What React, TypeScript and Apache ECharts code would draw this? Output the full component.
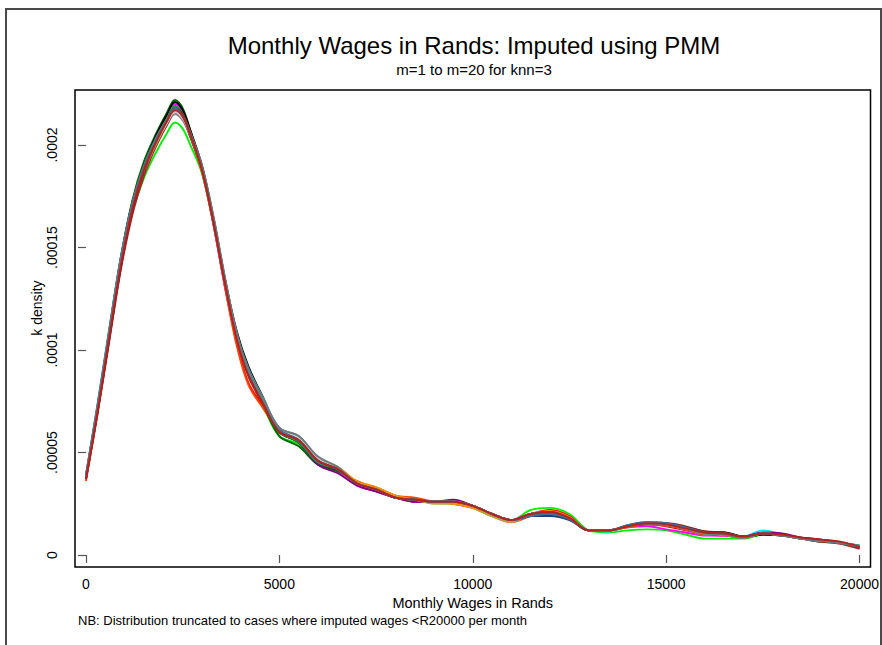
import React, { useEffect, useRef } from "react";
import * as echarts from "echarts";

// Wage grid (Rands per month)
const wages = [0, 300, 600, 900, 1200, 1500, 1800, 2100, 2300, 2500, 2700, 3000, 3300, 3600, 3900, 4200, 4600, 5000, 5500, 6000, 6500, 7000, 7500, 8000, 8500, 9000, 9500, 10000, 10500, 11000, 11500, 12000, 12500, 13000, 13500, 14000, 14500, 15000, 15500, 16000, 16500, 17000, 17500, 18000, 18500, 19000, 19500, 20000];

// Kernel density values, in millionths (1e-6)
const m1 = [37,70,106,141,167,184,196,206,211,208,200,186,161,131,106,88,72,58,54,44,41,35,32,29,27,26,26,23,19,17,22,23,20,12,11,12,12.5,12,10,8,8,8,10,9.5,8,7,6,4.5];
const m2 = [38,72,108,144,171,189,202,213,218,214,204,187,161,131,103,84,72,60,55,45,42,35,31,28,26,26,25,24,20,17,20,22,19,12,12,14,15,14,12,10,9.5,8.5,10.5,9.5,8,7,6,3.5];
const m3 = [39,73,109,145,172,190,203,214,220,216,206,188,161,130,105,89,75,62,56,45,41,34,31,28,26,26,25,23,20,17,20,21,18,12,12,13.5,14,12.5,11,9.5,9.5,8.5,10.5,10,8,7,6,4];
const m4 = [39,74,110,145,172,190,203,214,219,215,205,188,162,132,106,89,74,61,56,46,42,35,32,28,27,26,26,24,20,17,20,21,18,12,11.5,14,15,14.5,12.5,10,10,9,12,10,8,7,6,4];
const m5 = [36,69,105,141,168,187,200,211,217,214,204,187,161,130,102,83,71,60,56,46,42,36,33,29,28,26,25,23,19,16,19,21,18,12,12,13.5,15,14.5,12.5,10,10,8.5,10.5,9.5,8,7,6,4];
const m6 = [38,72,109,145,173,192,205,216,222,218,207,189,163,133,107,89,73,58,53,44,41,36,32,28,27,26,26,24,20,17,20,21,18,12,12,14,15.5,15,13,10.5,10,8.5,10,9.5,8,6.5,6,4];
const m7 = [38,72,108,143,170,188,201,212,217,214,205,189,164,134,108,91,75,61,56,46,42,35,32,28,27,26,26,24,20,17,19,19,17,12,12,14.5,16,15.5,13.5,11,10.5,9,10.5,9.5,8,7,6,4.5];
const m8 = [38,71,107,143,170,188,201,212,216,213,204,188,162,132,106,89,74,60,55,44,40,34,31,28,26,26,27,24,20,17,20,21,18,12,12,14,15.5,15,13,10.5,10,9,11,10.5,8.5,7.5,6,4];
const m9 = [37,70,106,141,168,186,199,210,215,212,204,188,163,133,107,90,75,62,57,47,43,35,32,28,27,26,26,24,20,17,20,21,18,12,12,14,15.5,15,13,10.5,10,8.5,10.5,9.5,8,7,6,4];
const m10 = [37,69,104,139,166,185,199,210,216,213,204,188,162,132,106,89,74,61,56,46,42,35,32,28,27,26,26,24,20,17,20,21,18,12,12,14,15,15,13.5,11.5,11,9,10.5,9.5,8,6.5,5.5,3];
const m11 = [38,72,108,144,172,190,204,215,221,217,207,190,164,134,109,92,76,60,55,45,42,35,32,28,27,26,26,24,20,17,19.5,20,18,12,12,14,15.5,15,13,11,11,9,10,9.5,8,7,6,4];
const m12 = [39,73,110,145,172,190,203,213,219,215,206,190,165,135,108,91,76,62,58,47,43,35,32,28,27,26,26,24,20,17,20,21,18,12,12,14,15.5,15,13,10.5,10,8.5,10.5,9.5,8,7,6,4.5];
const m13 = [38,71,107,142,169,187,200,211,217,214,205,188,162,132,106,89,74,61,56,46,42,35,33,29,27,25,25,23,19,16,20,21,18,12,12,14,15.5,15,13,10.5,10,8.5,10.5,9.5,8,7,6,4];
const m14 = [38,72,108,143,170,188,201,212,218,214,205,188,162,132,106,89,74,61,56,46,43,36,33,29,27,26,25,23,20,17,20,21.5,18.5,12,12,14,15.5,15,13,10.5,10,8.5,10.5,9.5,8,7,6,4];
const m15 = [38,72,108,143,170,188,201,211,216,213,205,188,162,132,106,89,74,61,57,47,42,35,32,28,27,26,26,24,20,17,20,21,18,12,12,14,15.5,15,13,10.5,10,8.5,10.5,9.5,8,7,6,4];
const m16 = [38,72,108,143,171,189,202,213,219,215,205,188,162,132,106,88,73,60,55,45,42,35,32,28,27,26,26,24,20,17,20,21,18,12,12,14,15.5,15,13,10.5,10,8.5,10.5,9.5,8,7,6,4];
const m17 = [37,70,105,140,168,187,201,212,218,215,205,188,162,132,106,89,74,61,56,46,42,35,32,28,27,26,26,24,20,17,20,21,18,12,12,14,15.5,15.5,14,11.5,11,9,10.5,9.5,8.5,7.5,6,3.5];
const m18 = [39,73,109,144,171,189,202,212,218,214,205,189,163,133,107,90,75,61,56,46,42,35,32,28,27,26,26,24,20,17,19,20,17.5,12,12,14.5,16,15.5,13.5,11,10.5,9,10.5,9.5,8,7,6,4];
const m19 = [38,72,108,143,170,188,201,212,217,214,205,189,164,134,108,90,75,62,58,48,43,35,32,28,27,26,26,24,20,17,20,21,18,12,12,14,15.5,15,13,10.5,10,8.5,10.5,9.5,8,7,6,4];
const m20 = [37,70,106,141,169,188,201,212,217,214,205,188,162,132,105,87,73,60,56,46,42,35,32,28,27,26,26,24,20,17,20,21,18,12,12,14,15.5,15,13,11,10.5,9,10.5,10,8.5,7.5,6.5,4];

const imputations = [m1, m2, m3, m4, m5, m6, m7, m8, m9, m10, m11, m12, m13, m14, m15, m16, m17, m18, m19, m20];
const imputationNames = imputations.map((_, i) => `m=${i + 1}`);

const xTickValues = [0, 5000, 10000, 15000, 20000];
const yTickValues = [0, 50, 100, 150, 200];
const yTickLabels = ["0", ".00005", ".0001", ".00015", ".0002"];

const titleText = "Monthly Wages in Rands: Imputed using PMM";
const subtitleText = "m=1 to m=20 for knn=3";
const xTitle = "Monthly Wages in Rands";
const yTitle = "k density";
const noteText = "NB: Distribution truncated to cases where imputed wages <R20000 per month";

const palette = ["#00ee00", "#ff0000", "#ff00ff", "#00e5ff", "#ff4500", "#006400", "#1c3f6e", "#800080", "#8c8c8c", "#a52a2a", "#000000", "#5f8f8f", "#b5a642", "#ff8c00", "#c8c8c8", "#2e8b57", "#8b1a1a", "#3f6f9f", "#6e7b7b", "#b22222"];

const FONT = "Liberation Sans, Arial, sans-serif";

export default function App() {
  const ref = useRef<HTMLDivElement>(null);
  useEffect(() => {
    if (!ref.current) return;
    const chart = echarts.init(ref.current, undefined, { renderer: "svg" });
    const series = imputations.map((vals, i) => ({
      name: imputationNames[i],
      type: "line",
      data: wages.map((w, j) => [w, vals[j]]),
      showSymbol: false,
      smooth: 0.35,
      lineStyle: { color: palette[i], width: 1.9 },
      itemStyle: { color: palette[i] },
      emphasis: { disabled: true },
    }));
    chart.setOption({
      animation: false,
      backgroundColor: "#ffffff",
      textStyle: { fontFamily: FONT },
      grid: {
        left: 75,
        top: 90,
        width: 798,
        height: 477,
        show: true,
        borderColor: "#000000",
        borderWidth: 1.5,
        containLabel: false,
      },
      xAxis: {
        type: "value",
        min: -283.5,
        max: 20283.5,
        axisLine: { show: false },
        splitLine: { show: false },
        axisTick: {
          show: true,
          inside: false,
          length: 8,
          customValues: xTickValues,
          lineStyle: { color: "#555555", width: 1.2 },
        },
        axisLabel: {
          customValues: xTickValues,
          margin: 10,
          fontSize: 14,
          color: "#000000",
          fontFamily: FONT,
          formatter: (v: number) => String(v),
        },
        name: xTitle,
        nameLocation: "middle",
        nameGap: 24,
        nameTextStyle: { fontSize: 14.5, color: "#000000", fontFamily: FONT },
      },
      yAxis: {
        type: "value",
        min: -5.85,
        max: 226.83,
        axisLine: { show: false },
        splitLine: { show: false },
        axisTick: {
          show: true,
          inside: false,
          length: 8,
          customValues: yTickValues,
          lineStyle: { color: "#555555", width: 1.2 },
        },
        axisLabel: {
          customValues: yTickValues,
          rotate: 90,
          margin: 16,
          fontSize: 14,
          color: "#000000",
          fontFamily: FONT,
          formatter: (v: number) => {
            const k = yTickValues.indexOf(Math.round(v));
            return k >= 0 ? yTickLabels[k] : "";
          },
        },
      },
      graphic: [
        {
          type: "rect",
          silent: true,
          shape: { x: 6, y: 9, width: 875, height: 700 },
          style: { fill: "none", stroke: "#4a4a4a", lineWidth: 2 },
        },
        {
          type: "text",
          x: 474,
          y: 45,
          style: { text: titleText, font: `24px ${FONT}`, fill: "#000", textAlign: "center", textVerticalAlign: "middle" },
        },
        {
          type: "text",
          x: 474,
          y: 69,
          style: { text: subtitleText, font: `15px ${FONT}`, fill: "#000", textAlign: "center", textVerticalAlign: "middle" },
        },
        {
          type: "text",
          x: 37,
          y: 308,
          rotation: Math.PI / 2,
          style: { text: yTitle, font: `14px ${FONT}`, fill: "#000", textAlign: "center", textVerticalAlign: "middle" },
        },
        {
          type: "text",
          x: 78,
          y: 620,
          style: { text: noteText, font: `13px ${FONT}`, fill: "#000", textAlign: "left", textVerticalAlign: "middle" },
        },
      ],
      series,
    });
    return () => chart.dispose();
  }, []);
  return <div ref={ref} style={{ position: "absolute", left: 0, top: 0, width: 882, height: 645 }} />;
}
